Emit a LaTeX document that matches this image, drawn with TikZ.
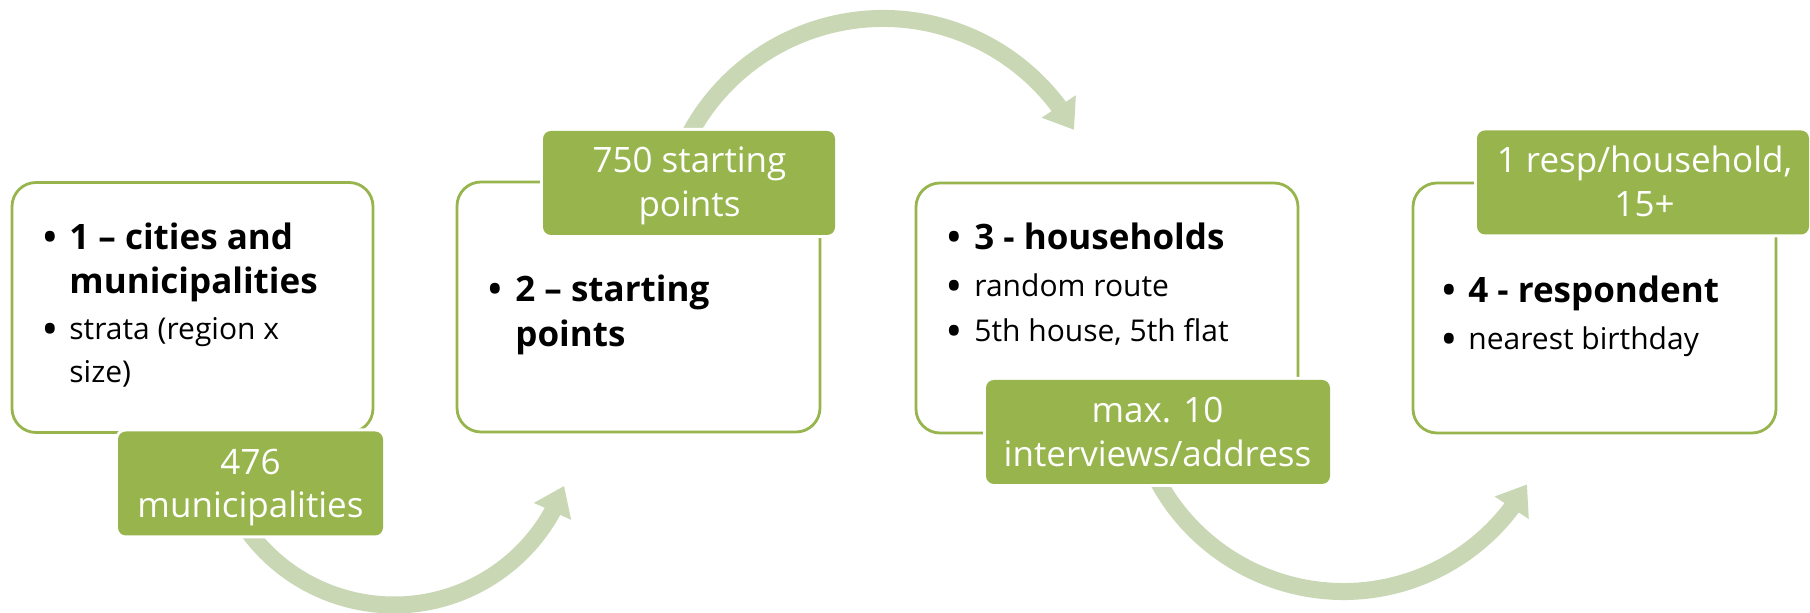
\documentclass[tikz,border=0pt]{standalone}
\usepackage{fontspec}
\setmainfont{Open Sans}
\usetikzlibrary{arrows.meta,bending}
\definecolor{olive}{RGB}{151,181,76}
\definecolor{pale}{RGB}{201,215,181}
\begin{document}
\begin{tikzpicture}[x=0.5pt,y=0.5pt,
  stage/.style={draw=olive, line width=1.4pt, rounded corners=12pt, fill=white,
    inner sep=0pt, minimum height=125pt},
  tag/.style={fill=olive, preaction={draw=white, line width=3pt}, rounded corners=4pt,
    inner sep=0pt, minimum height=52pt},
  flow/.style={draw=pale, line width=8.5pt, -{Triangle[width=19.5pt,length=14pt]}},
  dot/.style={font=\fontsize{17.5}{21}\selectfont\bfseries, anchor=base west, inner sep=0pt, xshift=-2.5pt},
  subdot/.style={dot, yshift=-1pt},
  head/.style={font=\fontsize{17.5}{21}\selectfont\bfseries, anchor=base west, inner sep=0pt},
  sub/.style={font=\fontsize{15}{18}\selectfont, anchor=base west, inner sep=0pt},
  tagtext/.style={font=\fontsize{17.5}{21}\selectfont, text=white, anchor=base, inner sep=0pt},
]
\useasboundingbox (0,0) rectangle (1810,613);

% the four stages
\node[stage, minimum width=180.5pt] (s1) at (192.5,305.5) {};
\node[stage, minimum width=181.5pt] (s2) at (638.5,306) {};
\node[stage, minimum width=191pt]   (s3) at (1107,305) {};
\node[stage, minimum width=181.5pt] (s4) at (1594.5,305) {};

% stage texts
\node[dot]  (b1)  at (48,363)  {•};
\node[head] (t1a) at (69,363)  {1 – cities and};
\node[head] (t1b) at (69,319)  {municipalities};
\node[subdot] (b1s) at (48,273) {•};
\node[sub]  (t1c) at (69,273)  {strata (region x};
\node[sub]  (t1d) at (69,230)  {size)};

\node[dot]  (b2)  at (493,311) {•};
\node[head] (t2a) at (515,311) {2 – starting};
\node[head] (t2b) at (515,266) {points};

\node[dot]  (b3)  at (952,363) {•};
\node[head] (t3a) at (974,363) {3 - households};
\node[subdot] (b3s) at (952,316) {•};
\node[sub]  (t3b) at (974,316) {random route};
\node[subdot] (b3t) at (952,271) {•};
\node[sub]  (t3c) at (974,271) {5th house, 5th flat};

\node[dot]  (b4)  at (1447,310) {•};
\node[head] (t4a) at (1468,310) {4 - respondent};
\node[subdot] (b4s) at (1447,263) {•};
\node[sub]  (t4b) at (1468,263) {nearest birthday};

% curved flow arrows between the stages
\coordinate (c1) at (394,189);
\coordinate (c2) at (883,375);
\coordinate (c3) at (1343.4,232.5);
\draw[flow] (c1) ++(215:181) arc[start angle=215, end angle=340, radius=181];
\draw[flow] (c2) ++(155:219.5) arc[start angle=155, end angle=29.5, radius=219.5];
\draw[flow] (c3) ++(205:211) arc[start angle=205, end angle=330.5, radius=211];

% count tags
\node[tag, minimum width=132.5pt] (g1) at (250.5,129.5) {};
\node[tag, minimum width=146pt]   (g2) at (689,430) {};
\node[tag, minimum width=172pt]   (g3) at (1158,181) {};
\node[tag, minimum width=166pt]   (g4) at (1643,430.5) {};

\node[tagtext] (g1a) at (250.5,138) {476};
\node[tagtext] (g1b) at (250.5,95)  {municipalities};
\node[tagtext] (g2a) at (689.5,440) {750 starting};
\node[tagtext] (g2b) at (689.5,396) {points};
\node[tagtext] (g3a) at (1157.5,190) {max. 10};
\node[tagtext] (g3b) at (1157.5,146) {interviews/address};
\node[tagtext] (g4a) at (1644.5,440) {1 resp/household,};
\node[tagtext] (g4b) at (1644.5,396) {15+};
\end{tikzpicture}
\end{document}
